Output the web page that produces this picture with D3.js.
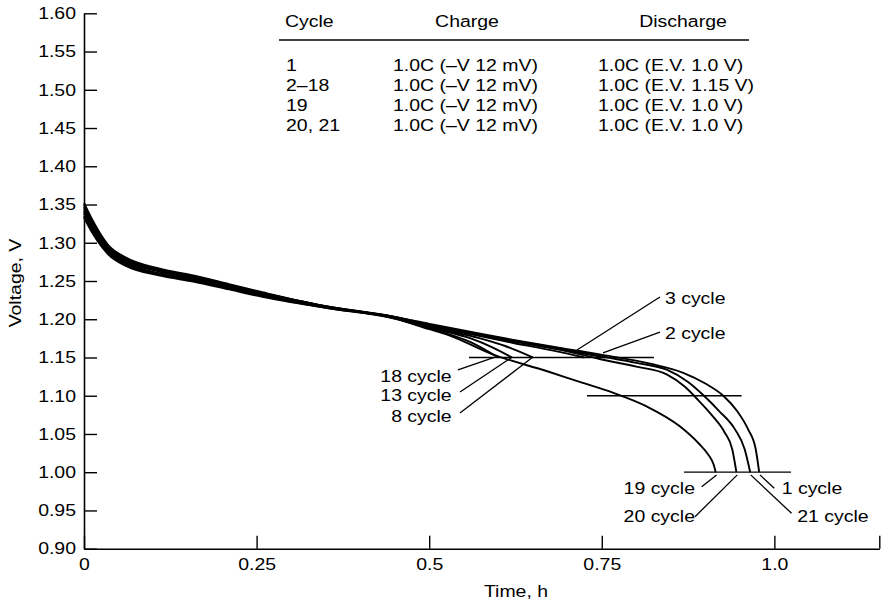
<!DOCTYPE html>
<html>
<head>
<meta charset="utf-8">
<script src="https://cdn.jsdelivr.net/npm/d3@7"></script>
<style>
  html, body { margin: 0; padding: 0; background: #fff; }
  svg { display: block; }
  text { font-family: 'Liberation Sans', Arial, Helvetica, sans-serif; fill: #000; }
</style>
</head>
<body>
<div id="chart"></div>
<script>
// axis ticks
const yTicks = [0.90, 0.95, 1.00, 1.05, 1.10, 1.15, 1.20, 1.25, 1.30, 1.35, 1.40, 1.45, 1.50, 1.55, 1.60];
const xTicks = [0, 0.25, 0.5, 0.75, 1.0, 1.152];
const xTickLabels = ['0', '0.25', '0.5', '0.75', '1.0', ''];

// table (cycle / charge / discharge)
const tableHeader = ['Cycle', 'Charge', 'Discharge'];
const tableCycles = ['1', '2\u201318', '19', '20, 21'];
const tableCharge = ['1.0C (\u2013V 12 mV)', '1.0C (\u2013V 12 mV)', '1.0C (\u2013V 12 mV)', '1.0C (\u2013V 12 mV)'];
const tableDischarge = ['1.0C (E.V. 1.0 V)', '1.0C (E.V. 1.15 V)', '1.0C (E.V. 1.0 V)', '1.0C (E.V. 1.0 V)'];

// discharge curves [time h, voltage V]
const cycle1 = [[0,1.352],[0.012,1.330],[0.035,1.297],[0.06,1.281],[0.11,1.266],[0.16,1.257],[0.21,1.246],[0.26,1.235],[0.35,1.217],[0.45,1.203],
  [0.50,1.194],[0.574,1.181],[0.622,1.173],[0.70,1.161],[0.747,1.154],[0.82,1.142],[0.868,1.130],[0.900,1.116],[0.926,1.100],[0.946,1.080],[0.962,1.056],[0.973,1.030],[0.978,1.000]];
const cycle21 = [[0,1.350],[0.012,1.328],[0.035,1.296],[0.06,1.280],[0.11,1.265],[0.16,1.256],[0.21,1.245],[0.26,1.234],[0.35,1.217],[0.45,1.203],
  [0.50,1.193],[0.574,1.180],[0.622,1.172],[0.70,1.160],[0.747,1.152],[0.80,1.143],[0.844,1.134],[0.875,1.118],[0.898,1.100],[0.920,1.080],[0.943,1.056],[0.957,1.030],[0.965,1.000]];
const cycle20 = [[0,1.347],[0.012,1.326],[0.035,1.294],[0.06,1.278],[0.11,1.264],[0.16,1.255],[0.21,1.244],[0.26,1.234],[0.35,1.217],[0.45,1.203],
  [0.50,1.192],[0.574,1.179],[0.622,1.171],[0.70,1.158],[0.747,1.148],[0.80,1.138],[0.844,1.128],[0.870,1.112],[0.890,1.094],[0.910,1.074],[0.928,1.052],[0.939,1.030],[0.945,1.000]];
const cycle2 = [[0,1.345],[0.012,1.324],[0.035,1.293],[0.06,1.277],[0.11,1.263],[0.16,1.254],[0.21,1.243],[0.26,1.233],[0.35,1.216],[0.45,1.202],
  [0.50,1.192],[0.574,1.179],[0.622,1.171],[0.70,1.159],[0.755,1.150]];
const cycle3 = [[0,1.342],[0.012,1.322],[0.035,1.291],[0.06,1.276],[0.11,1.262],[0.16,1.253],[0.21,1.243],[0.26,1.232],[0.35,1.216],[0.45,1.202],
  [0.50,1.191],[0.574,1.178],[0.622,1.169],[0.68,1.159],[0.725,1.150]];
const cycle8 = [[0,1.340],[0.012,1.319],[0.035,1.290],[0.06,1.274],[0.11,1.260],[0.16,1.252],[0.21,1.242],[0.26,1.231],[0.35,1.216],[0.45,1.202],
  [0.50,1.190],[0.574,1.175],[0.61,1.165],[0.65,1.150]];
const cycle13 = [[0,1.338],[0.012,1.317],[0.035,1.288],[0.06,1.273],[0.11,1.259],[0.16,1.251],[0.21,1.241],[0.26,1.231],[0.35,1.216],[0.45,1.202],
  [0.50,1.189],[0.56,1.175],[0.59,1.164],[0.62,1.150]];
const cycle18 = [[0,1.335],[0.012,1.315],[0.035,1.287],[0.06,1.271],[0.11,1.258],[0.16,1.250],[0.21,1.240],[0.26,1.230],[0.35,1.215],[0.45,1.201],
  [0.50,1.188],[0.56,1.170],[0.60,1.150]];
const cycle19 = [[0,1.333],[0.012,1.313],[0.035,1.285],[0.06,1.270],[0.11,1.257],[0.16,1.249],[0.21,1.239],[0.26,1.229],[0.35,1.215],[0.45,1.201],
  [0.50,1.187],[0.526,1.180],[0.592,1.154],[0.671,1.132],[0.718,1.118],[0.766,1.104],[0.815,1.086],[0.863,1.060],[0.890,1.038],[0.905,1.022],[0.912,1.010],[0.915,1.000]];
const curves = [cycle1, cycle21, cycle20, cycle2, cycle3, cycle8, cycle13, cycle18, cycle19];

// end-voltage reference lines [voltage, t from, t to]
const refLines = [[1.15, 0.5576, 0.8256], [1.10, 0.7286, 0.9526], [1.00, 0.869, 1.024]];

// curve labels: text, anchor, text pos [t, V], leader from [t, V] to [t, V]
const labelText = ['3 cycle', '2 cycle', '18 cycle', '13 cycle', '8 cycle', '19 cycle', '20 cycle', '1 cycle', '21 cycle'];
const labelAnchor = ['start', 'start', 'end', 'end', 'end', 'end', 'end', 'start', 'start'];
const labelPos = [[0.8415,1.2196],[0.8415,1.1738],[0.5326,1.1184],[0.5326,1.0931],[0.5326,1.0661],[0.8850,0.9711],[0.8850,0.9353],[1.0106,0.9711],[1.0332,0.9353]];
const leaderFrom = [[0.8343,1.2291],[0.8343,1.1833],[0.5417,1.1337],[0.5446,1.1049],[0.5446,1.0775],[0.8947,0.9810],[0.8850,0.9418],[0.9999,0.9790],[1.0249,0.9463]];
const leaderTo = [[0.7141,1.1598],[0.7517,1.1559],[0.5953,1.1505],[0.6199,1.1505],[0.6503,1.1505],[0.9163,0.9965],[0.9463,0.9965],[0.9791,0.9965],[0.9657,0.9965]];

const W = 881, H = 603;
const SX = 1.18; // the scanned lettering is wide
const FONT = 16.5;

const svg = d3.select('#chart').append('svg').attr('width', W).attr('height', H);
svg.append('rect').attr('width', W).attr('height', H).attr('fill', '#fff');

const x = d3.scaleLinear().domain([0, 1.152]).range([84, 879.3]);
const y = d3.scaleLinear().domain([0.90, 1.60]).range([548.7, 13.3]);

function addText(parent, px, py, str, anchor) {
    return parent.append('text')
        .attr('transform', `translate(${px},${py}) scale(${SX},1)`)
        .attr('text-anchor', anchor || 'start')
        .attr('font-size', FONT)
        .text(str);
}

// axes
const yAxis = svg.append('g').attr('transform', 'translate(84,0)')
    .call(d3.axisLeft(y).tickValues(yTicks).tickFormat(d3.format('.2f')).tickSizeInner(-13).tickSizeOuter(0).tickPadding(8));
const xAxis = svg.append('g').attr('transform', `translate(0,${y(0.90)})`)
    .call(d3.axisBottom(x).tickValues(xTicks).tickFormat((d, i) => xTickLabels[i]).tickSizeInner(-13).tickSizeOuter(0).tickPadding(10));
[yAxis, xAxis].forEach(g => {
    g.attr('font-family', null).attr('font-size', null);
    g.select('.domain').attr('stroke', '#000').attr('stroke-width', 1.6);
    g.selectAll('.tick line').attr('stroke', '#000').attr('stroke-width', 1.4);
    g.selectAll('.tick text').attr('font-size', FONT).attr('fill', '#000');
});
yAxis.selectAll('.tick text').attr('x', -8 / SX).attr('transform', `scale(${SX},1)`);
xAxis.selectAll('.tick text').attr('transform', `scale(${SX},1)`);

// axis titles
svg.append('text')
    .attr('transform', `translate(21,283) rotate(-90) scale(${SX},1)`)
    .attr('text-anchor', 'middle').attr('font-size', FONT)
    .text('Voltage, V');
addText(svg, 516, 597, 'Time, h', 'middle');

// table
const tbl = svg.append('g');
addText(tbl, 285, 27, tableHeader[0]);
addText(tbl, 467, 27, tableHeader[1], 'middle');
addText(tbl, 683, 27, tableHeader[2], 'middle');
tbl.append('line').attr('x1', 279).attr('x2', 749).attr('y1', 40).attr('y2', 40)
    .attr('stroke', '#000').attr('stroke-width', 1.5);
tableCycles.forEach((c, i) => {
    const by = 71 + i * 20;
    addText(tbl, 286, by, c);
    addText(tbl, 393, by, tableCharge[i]);
    addText(tbl, 598, by, tableDischarge[i]);
});

// reference lines
svg.append('g').selectAll('line').data(refLines).join('line')
    .attr('x1', d => x(d[1])).attr('x2', d => x(d[2]))
    .attr('y1', d => y(d[0])).attr('y2', d => y(d[0]))
    .attr('stroke', '#000').attr('stroke-width', 1.3);

// curves
const line = d3.line().x(d => x(d[0])).y(d => y(d[1])).curve(d3.curveMonotoneX);
svg.append('g').selectAll('path').data(curves).join('path')
    .attr('d', line).attr('fill', 'none').attr('stroke', '#000').attr('stroke-width', 1.9);

// leaders and labels
const ann = svg.append('g');
labelText.forEach((t, i) => {
    ann.append('line')
        .attr('x1', x(leaderFrom[i][0])).attr('y1', y(leaderFrom[i][1]))
        .attr('x2', x(leaderTo[i][0])).attr('y2', y(leaderTo[i][1]))
        .attr('stroke', '#000').attr('stroke-width', 1.3);
    addText(ann, x(labelPos[i][0]), y(labelPos[i][1]), t, labelAnchor[i]);
});
</script>
</body>
</html>
